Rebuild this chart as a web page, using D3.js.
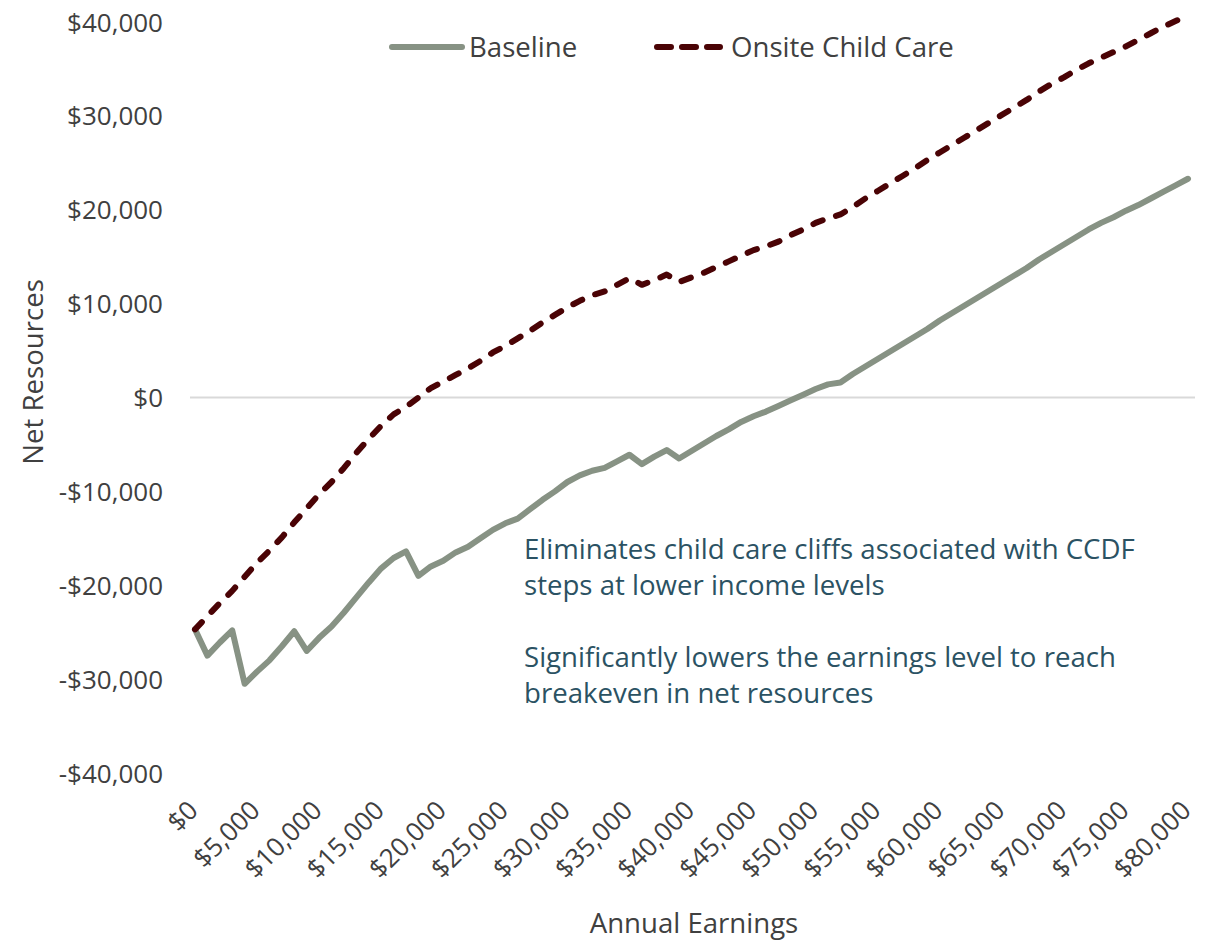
<!DOCTYPE html>
<html>
<head>
<meta charset="utf-8">
<script src="https://cdn.jsdelivr.net/npm/d3@7"></script>
<style>
  html, body { margin: 0; padding: 0; background: #ffffff; }
  svg { display: block; font-family: "Open Sans", "Noto Sans", sans-serif; }
</style>
</head>
<body>
<svg id="chart" width="1212" height="942"></svg>
<script>
// Annual earnings (every $1,000 from $0 to $80,000)
const earnings = d3.range(0, 81).map(k => k * 1000);

// Net resources, baseline scenario (in $1,000s)
const baselineK = [
  -24.7, -27.5, -26.1, -24.8, -30.5, -29.2, -28.0, -26.5, -24.9, -27.0,
  -25.6, -24.4, -22.9, -21.3, -19.7, -18.2, -17.1, -16.4, -19.0, -18.0,
  -17.4, -16.5, -15.9, -15.0, -14.1, -13.4, -12.9, -11.9, -10.9, -10.0,
  -9.0, -8.3, -7.8, -7.5, -6.8, -6.1, -7.1, -6.3, -5.6, -6.5,
  -5.7, -4.9, -4.1, -3.4, -2.6, -2.0, -1.5, -0.9, -0.3, 0.3,
  0.9, 1.4, 1.6, 2.5, 3.3, 4.1, 4.9, 5.7, 6.5, 7.3,
  8.2, 9.0, 9.8, 10.6, 11.4, 12.2, 13.0, 13.8, 14.7, 15.5,
  16.3, 17.1, 17.9, 18.6, 19.2, 19.9, 20.5, 21.2, 21.9, 22.6,
  23.3
];

// Net resources with onsite child care (in $1,000s)
const onsiteK = [
  -24.7, -23.3, -21.9, -20.6, -19.1, -17.6, -16.3, -14.9, -13.3, -11.8,
  -10.3, -9.0, -7.5, -5.9, -4.4, -3.0, -1.8, -1.0, 0.0, 1.0,
  1.7, 2.4, 3.1, 3.9, 4.8, 5.5, 6.3, 7.1, 8.0, 8.8,
  9.6, 10.3, 10.9, 11.3, 12.0, 12.7, 12.0, 12.5, 13.1, 12.3,
  12.8, 13.3, 13.9, 14.5, 15.1, 15.7, 16.1, 16.6, 17.3, 17.9,
  18.6, 19.1, 19.5, 20.3, 21.2, 22.0, 22.8, 23.6, 24.4, 25.3,
  26.1, 26.9, 27.7, 28.5, 29.3, 30.1, 30.9, 31.7, 32.6, 33.4,
  34.1, 34.9, 35.6, 36.2, 36.8, 37.4, 38.1, 38.8, 39.5, 40.1,
  40.7
];

const seriesNames = ["Baseline", "Onsite Child Care"];
const yTicks = [-40000, -30000, -20000, -10000, 0, 10000, 20000, 30000, 40000];
const xTicks = d3.range(0, 80001, 5000);
const notes = [
  ["Eliminates child care cliffs associated with CCDF", "steps at lower income levels"],
  ["Significantly lowers the earnings level to reach", "breakeven in net resources"]
];

const svg = d3.select("#chart");
const textColor = "#404040";
const numSize = 26;   // tick labels
const textSize = 27.6; // titles, legend, notes

const x = d3.scaleLinear().domain([0, 80000]).range([195, 1188]);
const y = d3.scaleLinear().domain([-40000, 40000]).range([773, 22]);

const money = v => (v < 0 ? "-$" : "$") + d3.format(",")(Math.abs(v));

// Horizontal axis line at zero
svg.append("line")
  .attr("x1", 190).attr("x2", 1195)
  .attr("y1", y(0)).attr("y2", y(0))
  .attr("stroke", "#d9d9d9").attr("stroke-width", 2);

// Vertical axis labels
const yAxis = d3.axisLeft(y).tickValues(yTicks).tickFormat(money).tickSize(0).tickPadding(0);
const gy = svg.append("g").attr("transform", "translate(163,0)").call(yAxis);
gy.select(".domain").remove();
gy.selectAll("text")
  .attr("font-family", "Open Sans, sans-serif")
  .attr("font-size", numSize)
  .attr("fill", textColor)
  .attr("dy", "0.35em");

// Horizontal axis labels, rotated
const xAxis = d3.axisBottom(x).tickValues(xTicks).tickFormat(money).tickSize(0).tickPadding(0);
const gx = svg.append("g").attr("transform", "translate(0,812)").call(xAxis);
gx.select(".domain").remove();
gx.selectAll("text")
  .attr("font-family", "Open Sans, sans-serif")
  .attr("font-size", numSize)
  .attr("fill", textColor)
  .attr("text-anchor", "end")
  .attr("dy", 0)
  .attr("y", 0)
  .attr("transform", "translate(4,0) rotate(-45)");

// Axis titles
svg.append("text")
  .attr("x", 694).attr("y", 933)
  .attr("text-anchor", "middle")
  .attr("font-size", textSize).attr("fill", textColor)
  .text("Annual Earnings");

svg.append("text")
  .attr("transform", "translate(43,372) rotate(-90)")
  .attr("text-anchor", "middle")
  .attr("font-size", textSize).attr("fill", textColor)
  .text("Net Resources");

// Lines
const line = d3.line()
  .x((d, i) => x(earnings[i]))
  .y(d => y(d * 1000));

svg.append("path")
  .datum(baselineK)
  .attr("d", line)
  .attr("fill", "none")
  .attr("stroke", "#879284")
  .attr("stroke-width", 6)
  .attr("stroke-linejoin", "round")
  .attr("stroke-linecap", "round");

svg.append("path")
  .datum(onsiteK)
  .attr("d", line)
  .attr("fill", "none")
  .attr("stroke", "#4a0305")
  .attr("stroke-width", 6)
  .attr("stroke-dasharray", "10,14")
  .attr("stroke-linejoin", "round")
  .attr("stroke-linecap", "round");

// Legend
const legend = svg.append("g");
legend.append("line")
  .attr("x1", 392).attr("x2", 462).attr("y1", 47).attr("y2", 47)
  .attr("stroke", "#879284").attr("stroke-width", 6).attr("stroke-linecap", "round");
legend.append("text")
  .attr("x", 469).attr("y", 47).attr("dy", "0.35em")
  .attr("font-size", textSize).attr("fill", textColor)
  .text(seriesNames[0]);
legend.append("line")
  .attr("x1", 657).attr("x2", 720).attr("y1", 47).attr("y2", 47)
  .attr("stroke", "#4a0305").attr("stroke-width", 6).attr("stroke-linecap", "round")
  .attr("stroke-dasharray", "14,11");
legend.append("text")
  .attr("x", 731).attr("y", 47).attr("dy", "0.35em")
  .attr("font-size", textSize).attr("fill", textColor)
  .text(seriesNames[1]);

// Annotations
const noteTops = [559, 667];
notes.forEach((lines, i) => {
  const t = svg.append("text")
    .attr("x", 524).attr("y", noteTops[i])
    .attr("font-size", textSize).attr("fill", "#2b5263");
  lines.forEach((s, j) => {
    t.append("tspan").attr("x", 524).attr("dy", j === 0 ? 0 : 36).text(s);
  });
});
</script>
</body>
</html>
